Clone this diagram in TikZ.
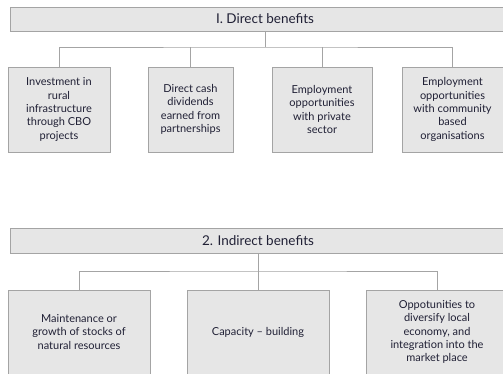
\documentclass[tikz,border=0pt]{standalone}
\usepackage{fontspec}
\setmainfont{Lato}
\definecolor{boxfill}{HTML}{E6E6E6}
\definecolor{boxline}{HTML}{A4A4A4}
\definecolor{txt}{HTML}{202035}
\begin{document}
\begin{tikzpicture}[x=1pt,y=1pt,
  bar/.style={draw=boxline,fill=boxfill,line width=1pt,inner sep=0pt,text=txt,font=\fontsize{13.5}{15}\selectfont},
  item/.style={draw=boxline,fill=boxfill,line width=1pt,inner sep=0pt,align=center,text=txt,font=\fontsize{11}{13.4}\selectfont},
  link/.style={draw=boxline,line width=1pt}]
\clip (0,0) rectangle (503,-373);
\fill[white] (0,0) rectangle (503,-373);
% top section
\node[bar,minimum width=510pt,minimum height=24pt] (d) at (265,-19) {I. Direct benefits};
\node[item,minimum width=102pt,minimum height=85pt] (d1) at (59,-109.5) {Investment in\\rural\\infrastructure\\through CBO\\projects};
\node[item,minimum width=85pt,minimum height=85pt] (d2) at (190.5,-109.5) {Direct cash\\dividends\\earned from\\partnerships};
\node[item,minimum width=100pt,minimum height=85pt] (d3) at (322,-109.5) {Employment\\opportunities\\with private\\sector};
\node[item,minimum width=101pt,minimum height=85pt] (d4) at (452.5,-109.5) {Employment\\opportunities\\with community\\based\\organisations};
\coordinate (dj) at (265,-47);
\draw[link] (d.south -| dj) -- (dj);
\draw[link] (d1.north) |- (dj) -| (d4.north);
\draw[link] (d2.north) -- (d2.north |- dj);
\draw[link] (d3.north) -- (d3.north |- dj);
% bottom section
\node[bar,minimum width=496pt,minimum height=25pt] (i) at (258,-240.5) {2. Indirect benefits};
\node[item,minimum width=142pt,minimum height=84pt] (i1) at (79,-332) {Maintenance or\\growth of stocks of\\natural resources};
\node[item,minimum width=142pt,minimum height=84pt] (i2) at (258,-332) {Capacity -- building};
\node[item,minimum width=142pt,minimum height=84pt] (i3) at (437,-332) {Oppotunities to\\diversify local\\economy, and\\integration into the\\market place};
\coordinate (ij) at (258,-271);
\draw[link] (i.south) -- (i2.north);
\draw[link] (i1.north) |- (ij) -| (i3.north);
\end{tikzpicture}
\end{document}
